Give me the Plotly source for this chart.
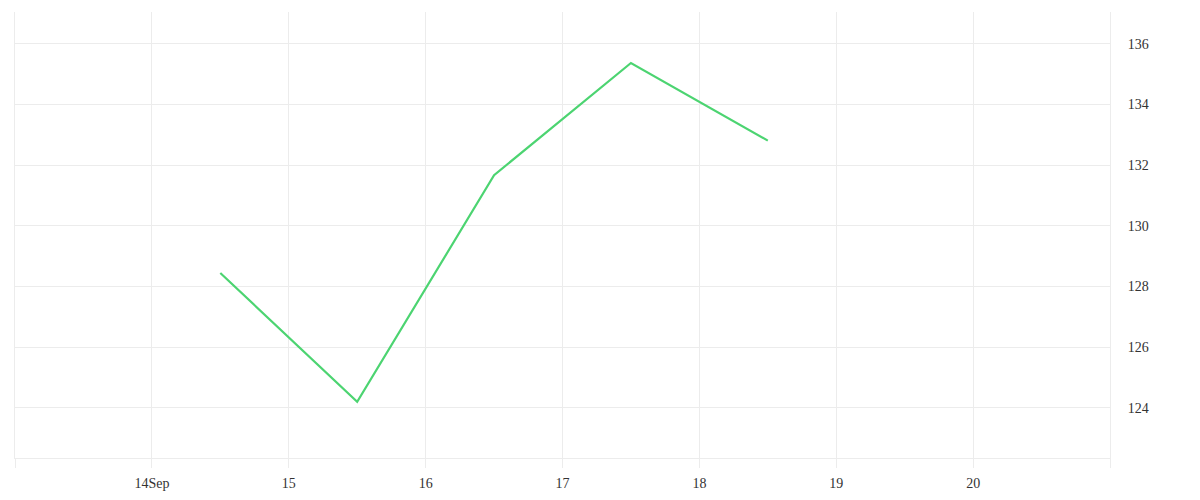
import plotly.graph_objects as go

# data
dates = ["2023-09-14 12:00", "2023-09-15 12:00", "2023-09-16 12:00",
         "2023-09-17 12:00", "2023-09-18 12:00"]
values = [128.45, 124.2, 131.67, 135.37, 132.81]

tick_dates = ["2023-09-13", "2023-09-14", "2023-09-15", "2023-09-16", "2023-09-17",
              "2023-09-18", "2023-09-19", "2023-09-20", "2023-09-21"]
tick_text = ["", "14Sep", "15", "16", "17", "18", "19", "20", ""]

grid = "#ececec"

fig = go.Figure(go.Scatter(
    x=dates, y=values, mode="lines",
    line=dict(color="#4cd471", width=2.2),
    hoverinfo="x+y",
))

fig.update_xaxes(
    type="date", range=["2023-09-13", "2023-09-21"],
    tickvals=tick_dates, ticktext=tick_text,
    showgrid=True, gridcolor=grid, gridwidth=1,
    ticks="outside", ticklen=9, tickcolor=grid,
    ticklabelstandoff=3,
    showline=True, linecolor=grid, linewidth=1,
    zeroline=False,
)
fig.update_yaxes(
    side="right", range=[122.35, 137.05], dtick=2,
    showgrid=True, gridcolor=grid, gridwidth=1,
    ticks="outside", ticklen=14, tickcolor="rgba(0,0,0,0)",
    showline=True, mirror=True, linecolor=grid, linewidth=1,
    zeroline=False,
)
fig.update_layout(
    width=1200, height=500,
    margin=dict(l=7, r=98, t=4, b=50),
    plot_bgcolor="white", paper_bgcolor="white",
    font=dict(family="Liberation Serif", size=14, color="#333"),
    showlegend=False,
)

fig.write_html("out.html")
